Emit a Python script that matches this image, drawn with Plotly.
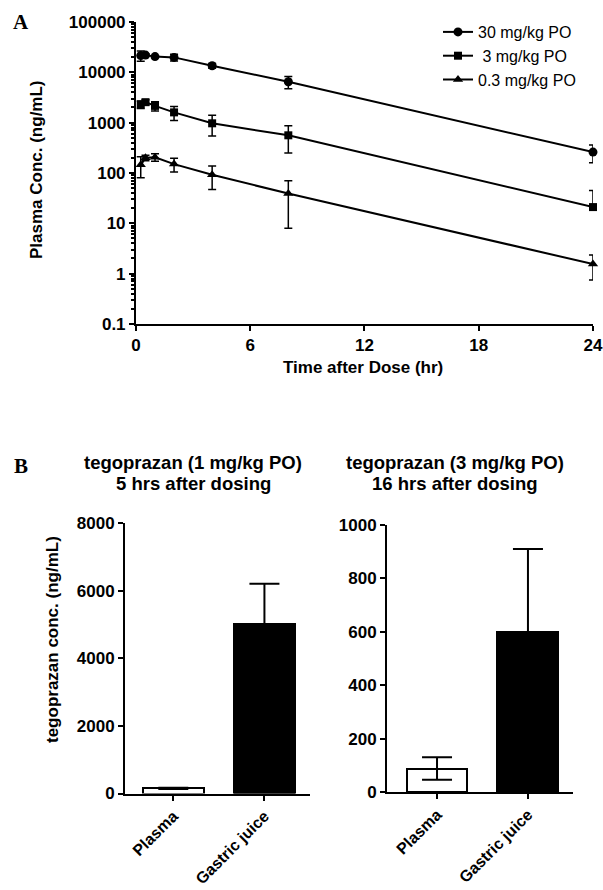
import plotly.graph_objects as go

# ---- Panel A data ----
times = [0.25, 0.5, 1, 2, 4, 8, 24]
c30 = [21500, 22000, 20500, 19800, 13500, 6500, 260]
sd30 = [5000, 1500, 800, 3000, 1500, 1800, 100]
c3 = [2300, 2550, 2150, 1600, 970, 560, 21]
sd3 = [400, 300, 450, 500, 430, 310, 24]
c03 = [145, 200, 205, 150, 92, 39, 1.55]
sd03 = [65, 25, 35, 45, 45, 31, 0.8]
series_names = ["30 mg/kg PO", "\u00a03 mg/kg PO", "0.3 mg/kg PO"]
series_symbols = ["circle", "square", "triangle-up"]

a_xticks = [0, 6, 12, 18, 24]
a_yticks = [0.1, 1, 10, 100, 1000, 10000, 100000]
a_yticklabels = ["0.1", "1", "10", "100", "1000", "10000", "100000"]

# ---- Panel B data ----
b_cats = ["Plasma", "Gastric juice"]
b1_vals = [150, 5000]
b1_sd = [20, 1200]
b2_vals = [88, 600]
b2_sd = [42, 310]
b1_yticks = [0, 2000, 4000, 6000, 8000]
b2_yticks = [0, 200, 400, 600, 800, 1000]

FONT = "Liberation Sans, Arial, sans-serif"
SERIF = "Liberation Serif, Times New Roman, serif"

fig = go.Figure()

for vals, sds, name, sym in zip([c30, c3, c03], [sd30, sd3, sd03], series_names, series_symbols):
    minus = [s if s < v else 0 for v, s in zip(vals, sds)]
    fig.add_trace(go.Scatter(
        x=times, y=vals, name=name, mode="lines+markers",
        line=dict(color="black", width=2),
        marker=dict(symbol=sym, size=9 if sym != "square" else 8, color="black"),
        error_y=dict(type="data", array=sds, arrayminus=minus, symmetric=False,
                     color="black", thickness=1.5, width=4),
        cliponaxis=False, xaxis="x", yaxis="y",
    ))

bar_colors = ["white", "black"]
fig.add_trace(go.Bar(
    x=b_cats, y=b1_vals, width=0.67,
    marker=dict(color=bar_colors, line=dict(color="black", width=2)),
    error_y=dict(type="data", array=b1_sd, color="black", thickness=2, width=15),
    showlegend=False, xaxis="x2", yaxis="y2",
))
fig.add_trace(go.Bar(
    x=b_cats, y=b2_vals, width=0.67,
    marker=dict(color=bar_colors, line=dict(color="black", width=2)),
    error_y=dict(type="data", array=b2_sd, color="black", thickness=2, width=15),
    showlegend=False, xaxis="x3", yaxis="y3",
))

tickfont = dict(family=FONT, size=17, color="black", weight="bold")
axis_common = dict(showline=True, linecolor="black", linewidth=2, ticks="outside",
                   ticklen=5, tickwidth=2, tickcolor="black", showgrid=False,
                   zeroline=False, tickfont=tickfont, automargin=False)
cat_axis = dict(axis_common)
cat_axis["tickfont"] = dict(family=FONT, size=16, color="black", weight="bold")

fig.update_layout(
    template="none",
    width=603, height=890,
    margin=dict(l=0, r=0, t=0, b=0, pad=0, autoexpand=False),
    paper_bgcolor="white", plot_bgcolor="white",
    font=dict(family=FONT, color="black"),
    bargap=0,
    xaxis=dict(domain=[0.2255, 0.9834], anchor="y", range=[0, 24],
               tickvals=a_xticks, **axis_common),
    yaxis=dict(domain=[0.6360, 0.9753], anchor="x", type="log", range=[-1, 5],
               tickvals=a_yticks, ticktext=a_yticklabels,
               minor=dict(ticks="outside", ticklen=3, tickwidth=1.5, tickcolor="black",
                          dtick="D1", showgrid=False),
               **axis_common),
    xaxis2=dict(domain=[0.2073, 0.5141], anchor="y2", range=[-0.53, 1.5],
                tickangle=-45, **cat_axis),
    yaxis2=dict(domain=[0.1084, 0.4124], anchor="x2", range=[0, 8000],
                tickvals=b1_yticks, **axis_common),
    xaxis3=dict(domain=[0.6418, 0.9502], anchor="y3", range=[-0.55, 1.495],
                tickangle=-45, **cat_axis),
    yaxis3=dict(domain=[0.1101, 0.4101], anchor="x3", range=[0, 1000],
                tickvals=b2_yticks, **axis_common),
    legend=dict(x=438 / 603, y=1 - 15 / 890, xanchor="left", yanchor="top",
                font=dict(family=FONT, size=16, color="black"),
                bgcolor="rgba(0,0,0,0)", itemwidth=30, tracegroupgap=0),
)

def px_x(v):
    return v / 603

def px_y(v):
    return 1 - v / 890

annots = [
    dict(text="A", x=px_x(21), y=px_y(22), font=dict(family=SERIF, size=21, weight="bold")),
    dict(text="B", x=px_x(21), y=px_y(466), font=dict(family=SERIF, size=21, weight="bold")),
    dict(text="Plasma Conc. (ng/mL)", x=px_x(36), y=px_y(170), textangle=-90,
         font=dict(family=FONT, size=17, weight="bold")),
    dict(text="Time after Dose (hr)", x=px_x(363), y=px_y(367),
         font=dict(family=FONT, size=17, weight="bold")),
    dict(text="tegoprazan conc. (ng/mL)", x=px_x(52), y=px_y(640), textangle=-90,
         font=dict(family=FONT, size=17, weight="bold")),
    dict(text="tegoprazan (1 mg/kg PO)", x=px_x(193), y=px_y(462),
         font=dict(family=FONT, size=18.5, weight="bold")),
    dict(text="5 hrs after dosing", x=px_x(193), y=px_y(483),
         font=dict(family=FONT, size=18.5, weight="bold")),
    dict(text="tegoprazan (3 mg/kg PO)", x=px_x(455), y=px_y(462),
         font=dict(family=FONT, size=18.5, weight="bold")),
    dict(text="16 hrs after dosing", x=px_x(455), y=px_y(483),
         font=dict(family=FONT, size=18.5, weight="bold")),
]
for a in annots:
    a.update(xref="paper", yref="paper", showarrow=False, xanchor="center", yanchor="middle")
    a["font"]["color"] = "black"
    fig.add_annotation(**a)

fig.write_html("out.html", config={"displayModeBar": False},
               post_script="document.body.style.margin='0';document.body.style.overflow='hidden';")
